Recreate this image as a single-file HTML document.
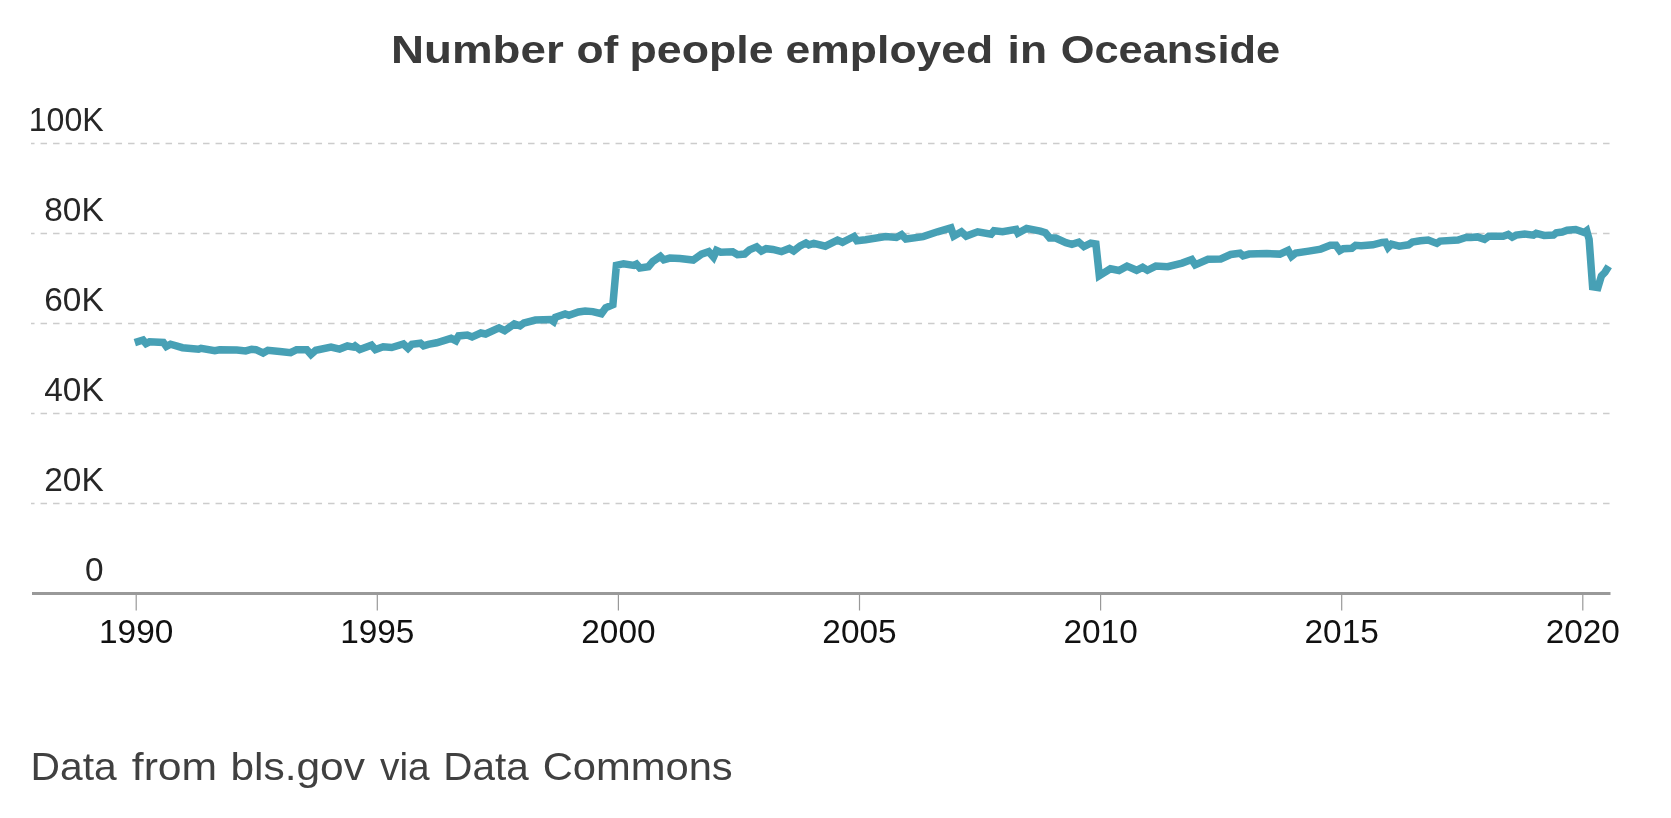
<!DOCTYPE html>
<html><head><meta charset="utf-8"><style>
html,body{margin:0;padding:0;background:#fff;}
body{width:1671px;height:818px;overflow:hidden;}
svg{display:block;will-change:transform;}
text{font-family:"Liberation Sans",sans-serif;}
.yl{font-size:33.4px;fill:#262626;}
.xl{font-size:33.4px;fill:#111111;}
.ti{font-size:39px;font-weight:bold;fill:#3a3a3a;}
.src{font-size:39px;fill:#404040;}
</style></head><body>
<svg width="1671" height="818" viewBox="0 0 1671 818">
<line x1="31" y1="143.5" x2="1611" y2="143.5" stroke="#cccccc" stroke-width="1.5" stroke-dasharray="6.5 6" stroke-dashoffset="2.95"/>
<line x1="31" y1="233.5" x2="1611" y2="233.5" stroke="#cccccc" stroke-width="1.5" stroke-dasharray="6.5 6" stroke-dashoffset="2.95"/>
<line x1="31" y1="323.5" x2="1611" y2="323.5" stroke="#cccccc" stroke-width="1.5" stroke-dasharray="6.5 6" stroke-dashoffset="2.95"/>
<line x1="31" y1="413.5" x2="1611" y2="413.5" stroke="#cccccc" stroke-width="1.5" stroke-dasharray="6.5 6" stroke-dashoffset="2.95"/>
<line x1="31" y1="503.5" x2="1611" y2="503.5" stroke="#cccccc" stroke-width="1.5" stroke-dasharray="6.5 6" stroke-dashoffset="2.95"/>
<line x1="32" y1="593.5" x2="1610.5" y2="593.5" stroke="#999999" stroke-width="3"/>
<line x1="136.2" y1="595" x2="136.2" y2="610.5" stroke="#999999" stroke-width="1.2"/>
<line x1="377.3" y1="595" x2="377.3" y2="610.5" stroke="#999999" stroke-width="1.2"/>
<line x1="618.4" y1="595" x2="618.4" y2="610.5" stroke="#999999" stroke-width="1.2"/>
<line x1="859.5" y1="595" x2="859.5" y2="610.5" stroke="#999999" stroke-width="1.2"/>
<line x1="1100.6" y1="595" x2="1100.6" y2="610.5" stroke="#999999" stroke-width="1.2"/>
<line x1="1341.7" y1="595" x2="1341.7" y2="610.5" stroke="#999999" stroke-width="1.2"/>
<line x1="1582.8" y1="595" x2="1582.8" y2="610.5" stroke="#999999" stroke-width="1.2"/>
<text x="103.7" y="131" text-anchor="end" class="yl" textLength="75" lengthAdjust="spacingAndGlyphs">100K</text>
<text x="103.7" y="221" text-anchor="end" class="yl">80K</text>
<text x="103.7" y="311" text-anchor="end" class="yl">60K</text>
<text x="103.7" y="401" text-anchor="end" class="yl">40K</text>
<text x="103.7" y="491" text-anchor="end" class="yl">20K</text>
<text x="103.7" y="581" text-anchor="end" class="yl">0</text>
<text x="136.2" y="643" text-anchor="middle" class="xl">1990</text>
<text x="377.3" y="643" text-anchor="middle" class="xl">1995</text>
<text x="618.4" y="643" text-anchor="middle" class="xl">2000</text>
<text x="859.5" y="643" text-anchor="middle" class="xl">2005</text>
<text x="1100.6" y="643" text-anchor="middle" class="xl">2010</text>
<text x="1341.7" y="643" text-anchor="middle" class="xl">2015</text>
<text x="1582.8" y="643" text-anchor="middle" class="xl">2020</text>
<text x="390.98" y="63" class="ti" textLength="172.74" lengthAdjust="spacingAndGlyphs">Number</text>
<text x="576.53" y="63" class="ti" textLength="41.86" lengthAdjust="spacingAndGlyphs">of</text>
<text x="629.56" y="63" class="ti" textLength="143.97" lengthAdjust="spacingAndGlyphs">people</text>
<text x="785.52" y="63" class="ti" textLength="207.74" lengthAdjust="spacingAndGlyphs">employed</text>
<text x="1007.59" y="63" class="ti" textLength="39.45" lengthAdjust="spacingAndGlyphs">in</text>
<text x="1060.78" y="63" class="ti" textLength="219.35" lengthAdjust="spacingAndGlyphs">Oceanside</text>
<text x="30.56" y="780" class="src" textLength="86.20" lengthAdjust="spacingAndGlyphs">Data</text>
<text x="131.81" y="780" class="src" textLength="85.28" lengthAdjust="spacingAndGlyphs">from</text>
<text x="230.44" y="780" class="src" textLength="134.49" lengthAdjust="spacingAndGlyphs">bls.gov</text>
<text x="380.00" y="780" class="src" textLength="49.66" lengthAdjust="spacingAndGlyphs">via</text>
<text x="443.29" y="780" class="src" textLength="85.48" lengthAdjust="spacingAndGlyphs">Data</text>
<text x="542.76" y="780" class="src" textLength="189.98" lengthAdjust="spacingAndGlyphs">Commons</text>
<path d="M134.8 342.6 L143 340 L146 343.6 L149.5 341.8 L163.3 342.4 L166.3 346.5 L170.5 344.2 L182.5 347.7 L198.6 349.2 L201 348.3 L214.8 350.7 L219.6 349.8 L236.8 350 L245.7 350.9 L251.7 349.2 L255.9 349.7 L263.1 353 L267.9 350.3 L279.8 351.5 L290.6 352.7 L296.6 349.7 L306.8 349.7 L311 354.5 L315.8 350.3 L331 347.1 L339.6 349.1 L347.4 346 L353.6 347.1 L355.1 346 L359.8 349.5 L371.5 345.2 L375.4 349.5 L383.2 346.7 L391.7 347.5 L403.4 344 L408 348.3 L411.9 344.4 L420.5 343.2 L423.6 345.9 L428.3 344.4 L436.7 342.8 L451.1 338.3 L455.9 340.7 L458.7 335.9 L467.4 335 L472.1 336.9 L480.8 333 L485.6 334 L499 327.8 L504.7 330.7 L514.3 323.9 L520 325.9 L523.9 323 L535.4 320.1 L550.7 319.6 L553.6 321.6 L555.5 317.2 L565.1 313.9 L568.9 315.3 L578.5 312 L585.2 311 L592.8 311.6 L601.4 313.7 L605.7 307.7 L612.9 304.7 L616.4 265.4 L623.6 263.7 L633.9 265.4 L636.5 264.1 L639.9 268 L648.4 266.7 L652.7 261.5 L660.4 256.4 L663.8 259.8 L669.8 258.1 L680 258.6 L693.2 260.1 L701.5 254.1 L708.7 251.7 L713.5 257.1 L716.5 250.5 L720.7 252.3 L732.7 251.7 L737.5 254.7 L744.6 254.1 L749.4 249.9 L756.6 246.9 L761.4 251.1 L766.2 248.7 L772.9 249.4 L781.5 251.6 L789.4 248.4 L793.7 250.9 L800.2 245.9 L805.9 243 L808.8 244.8 L813.8 243.3 L825.3 246.2 L837.5 240.1 L842.5 242.3 L854 236.5 L856.9 240.8 L865.5 239.7 L885.7 236.6 L896.3 237.5 L901.6 234.6 L905.9 239 L923.1 236.6 L937.5 231.8 L950.9 227.9 L953.8 236.1 L961.4 231.8 L966.2 236.1 L977.7 231.8 L991.1 234.2 L994 230.8 L1002.6 231.8 L1016 229.4 L1017.9 233.2 L1026.6 228.4 L1040.3 231.1 L1045.4 232.8 L1049.7 238 L1055.7 238 L1065.9 242.7 L1071.9 244.4 L1078.8 242.2 L1083.9 246.5 L1090.7 243.1 L1095.9 244 L1099.3 275.6 L1110.4 268.8 L1119 270.5 L1127 266.1 L1136.6 270.3 L1142.6 267.3 L1147.4 270.3 L1155.8 266.1 L1167.7 266.7 L1182.1 263.1 L1191.7 259.5 L1195.2 264.9 L1208 259.3 L1220.7 259 L1230.7 254.5 L1240 253.2 L1243.1 255.9 L1249.1 254.1 L1266.8 253.5 L1279.9 254.1 L1288.1 250.4 L1291.5 256.3 L1295.8 253 L1308.7 251.1 L1320.7 249.1 L1330.3 245.3 L1336 245.3 L1339.8 250.6 L1343.2 248.7 L1351.8 248.2 L1355.6 245.3 L1361.1 245.7 L1372.9 244.8 L1382.1 242.4 L1385.4 242.1 L1388.1 247.4 L1391.4 244.1 L1399.2 246.1 L1408.5 244.8 L1412.4 242.1 L1420.3 240.8 L1428.2 240.1 L1436.8 243.4 L1440.1 241.1 L1458 240.1 L1466.6 237.2 L1470.9 237.6 L1477.3 236.9 L1484.5 239.4 L1488.8 236.2 L1496.7 236.2 L1503.2 236.2 L1508.2 234.4 L1512.2 237.2 L1516.1 235.1 L1524.7 234 L1533.4 235.1 L1536.2 233.3 L1544.1 235.4 L1553.5 235.1 L1556.3 232.9 L1562.2 232 L1567.1 230.2 L1575.7 229.6 L1579.4 230.8 L1584.3 232.6 L1586.7 230.8 L1589.1 239.3 L1592.6 286.8 L1597.9 287.6 L1601.4 276 L1605 272.3 L1608.7 266.2" fill="none" stroke="#47a0b5" stroke-width="7.5" stroke-linejoin="miter" stroke-miterlimit="4" stroke-linecap="butt"/>
</svg>
</body></html>
